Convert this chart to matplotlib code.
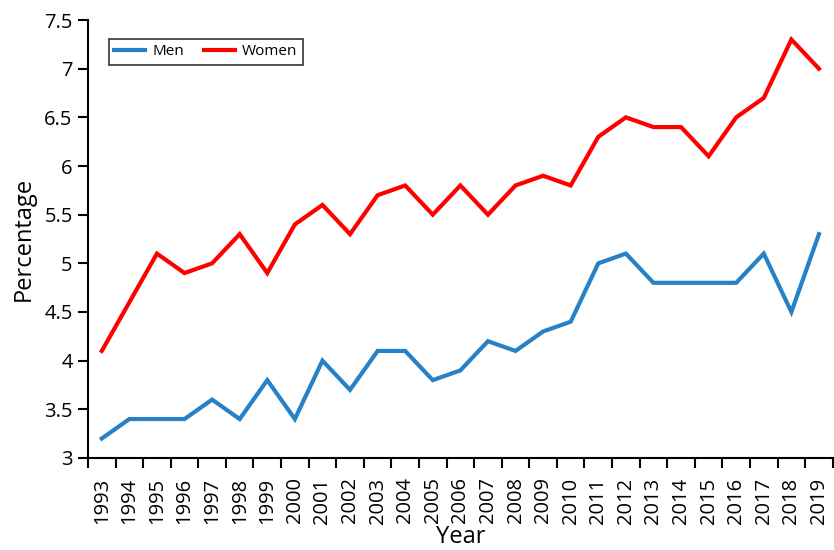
import matplotlib
matplotlib.use('Agg')
import matplotlib.pyplot as plt
from matplotlib.ticker import FixedLocator

plt.rcParams['font.family'] = ['Open Sans', 'DejaVu Sans']

# ── Data ──────────────────────────────────────────────────────
years = [str(y) for y in range(1993, 2020)]
men = [3.2, 3.4, 3.4, 3.4, 3.6, 3.4, 3.8, 3.4, 4.0, 3.7, 4.1, 4.1, 3.8, 3.9,
       4.2, 4.1, 4.3, 4.4, 5.0, 5.1, 4.8, 4.8, 4.8, 4.8, 5.1, 4.5, 5.3]
women = [4.1, 4.6, 5.1, 4.9, 5.0, 5.3, 4.9, 5.4, 5.6, 5.3, 5.7, 5.8, 5.5, 5.8,
         5.5, 5.8, 5.9, 5.8, 6.3, 6.5, 6.4, 6.4, 6.1, 6.5, 6.7, 7.3, 7.0]
y_ticks = [3, 3.5, 4, 4.5, 5, 5.5, 6, 6.5, 7, 7.5]
y_labels = ['3', '3.5', '4', '4.5', '5', '5.5', '6', '6.5', '7', '7.5']

# ── Figure ────────────────────────────────────────────────────
fig = plt.figure(figsize=(8.34, 5.5), dpi=100)
ax = fig.add_axes([0.1055, 0.1673, 0.893, 0.7963])

x = list(range(len(years)))
ax.plot(x, men, color='#2681c6', lw=3, label='Men', solid_joinstyle='miter')
ax.plot(x, women, color='#ff0000', lw=3, label='Women', solid_joinstyle='miter')

ax.set_xlim(-0.5, len(years) - 0.5)
ax.set_ylim(3, 7.5)
ax.set_xticks(x)
ax.set_xticklabels(years, rotation=90, fontsize=14.5)
ax.xaxis.set_minor_locator(FixedLocator([i - 0.5 for i in range(len(years) + 1)]))
ax.tick_params(axis='x', which='major', length=0, pad=14)
ax.tick_params(axis='x', which='minor', length=7, width=1.5, direction='out')
ax.set_yticks(y_ticks)
ax.set_yticklabels(y_labels, fontsize=14.5)
ax.tick_params(axis='y', length=7, width=1.5, direction='out', pad=4)

for s in ['top', 'right']:
    ax.spines[s].set_visible(False)
for s in ['left', 'bottom']:
    ax.spines[s].set_linewidth(1.5)

ax.set_xlabel('Year', fontsize=17, labelpad=1)
ax.set_ylabel('Percentage', fontsize=17, labelpad=6)

leg = ax.legend(loc='upper left', bbox_to_anchor=(0.028, 0.957), ncol=2,
                fontsize=11, frameon=True, fancybox=False, edgecolor='black',
                borderpad=0.35, handlelength=2.0, columnspacing=1.3,
                handletextpad=0.5, borderaxespad=0)
leg.get_frame().set_linewidth(1.2)

fig.savefig('out.png', dpi=100)
